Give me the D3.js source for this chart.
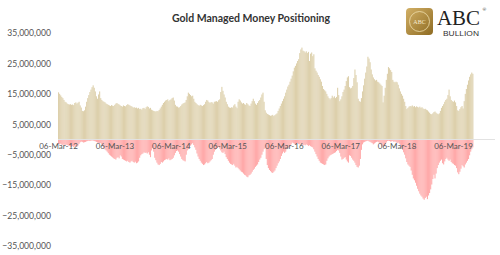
<!DOCTYPE html>
<html>
<head>
<meta charset="utf-8">
<script src="https://cdn.jsdelivr.net/npm/d3@7"></script>
<style>
  body { margin: 0; background: #fff; }
  svg { display: block; }
  text { font-family: Lato, "Noto Sans", sans-serif; }
</style>
</head>
<body>
<script>
// Weekly managed money positions (millions of oz), first week 06-Mar-12.
const firstWeek = new Date(2012, 2, 6)

const longMn = [
  15.5,15.0,14.5,14.0,13.6,13.0,12.4,12.2,11.8,11.6,11.5,11.6,11.4,11.5,11.3,12.0,12.2,11.8,12.1,12.4,11.2,10.5,9.4,9.3,9.6,10.8,12.4,13.6,14.6,15.6,16.4,17.2,17.8,17.0,15.8,14.2,13.4,14.8,15.8,13.6,13.0,12.6,12.4,12.2,11.8,11.6,11.4,11.2,11.0,11.3,11.1,11.0,
  11.4,11.8,12.0,11.7,11.5,11.2,11.0,10.8,11.2,11.0,10.9,11.3,11.6,11.4,11.2,11.0,10.8,10.5,10.6,10.4,10.5,10.2,10.4,10.0,10.1,9.8,10.3,10.4,10.0,10.6,10.9,10.7,10.2,10.4,9.8,9.6,9.4,9.3,9.2,9.4,9.3,9.7,10.2,10.8,11.4,12.0,12.4,12.8,13.0,13.2,12.6,13.0,
  13.2,13.6,13.8,12.8,11.4,10.9,10.8,10.5,10.6,11.0,11.5,11.8,12.0,12.2,13.0,14.2,15.4,15.0,14.6,14.2,14.4,13.4,12.4,12.0,11.6,11.3,11.1,11.4,11.2,11.0,11.3,11.6,12.4,13.0,12.8,12.3,12.0,12.3,12.2,11.8,12.4,12.5,12.6,12.4,12.9,13.2,15.6,17.3,16.0,14.8,13.8,12.4,
  11.6,10.8,10.5,10.4,10.6,10.5,11.2,11.6,10.8,10.3,12.4,13.2,12.8,12.2,11.8,12.0,11.6,11.4,12.0,11.6,11.2,11.0,11.8,12.6,13.4,12.6,11.8,11.4,12.0,12.6,13.0,13.8,14.8,15.4,12.4,9.6,8.8,8.4,8.2,8.0,7.8,7.9,8.1,7.7,8.0,8.3,8.6,9.4,10.2,11.0,11.8,12.6,13.4,
  14.2,15.4,16.4,17.4,18.0,19.0,20.0,21.0,22.4,23.6,24.2,25.0,25.8,26.4,28.4,29.6,30.2,29.2,29.0,28.6,29.0,28.4,28.8,25.8,28.2,28.6,27.4,28.0,23.4,22.6,22.0,21.2,20.6,19.8,19.0,17.6,16.6,16.2,15.8,15.0,14.2,13.6,13.2,13.6,14.4,13.8,14.2,13.6,14.0,17.0,14.6,12.6,
  13.2,14.2,15.6,16.4,17.6,19.2,20.4,20.8,17.2,16.8,17.0,17.6,20.2,23.0,21.2,18.8,13.4,12.6,12.4,13.6,15.8,17.8,20.0,22.0,24.0,27.2,26.6,25.4,23.0,21.4,20.4,19.8,19.4,19.6,19.0,18.8,18.4,18.0,17.6,12.2,14.4,17.0,19.6,21.6,23.8,23.4,22.8,22.2,19.6,19.0,18.8,19.0,
  18.8,18.0,16.8,15.8,15.0,14.4,13.4,12.4,11.0,10.0,10.4,10.8,11.0,10.9,11.2,10.8,11.0,10.6,10.9,10.7,10.5,10.8,10.4,10.6,10.2,10.0,10.1,9.8,9.6,9.2,8.8,8.4,8.3,8.6,9.0,9.2,8.8,8.5,8.3,8.6,9.4,10.4,11.0,11.6,12.4,13.0,13.4,14.6,16.4,14.2,13.0,12.6,
  12.4,12.8,12.2,11.0,9.6,9.4,10.0,10.6,11.0,10.2,12.6,15.0,16.6,18.0,19.4,20.6,21.4,22.0,21.6
]

const shortMn = [
  -1.5,-1.6,-1.4,-1.7,-1.8,-1.6,-1.9,-1.7,-1.8,-2.0,-2.1,-2.3,-2.4,-2.2,-2.5,-2.3,-2.2,-2.4,-2.0,-1.4,-0.9,-0.7,-0.8,-1.0,-0.9,-0.8,-0.6,-0.5,-0.4,-0.5,-0.4,-0.3,-0.4,-0.5,-0.6,-0.8,-1.0,-1.1,-1.3,-1.2,-1.6,-2.2,-2.8,-3.3,-3.6,-4.0,-4.5,-5.0,-5.3,-5.6,-5.9,-6.2,
  -6.4,-6.6,-6.0,-5.8,-6.2,-5.2,-5.6,-6.4,-6.6,-6.8,-7.0,-7.2,-7.0,-7.4,-7.6,-7.2,-7.0,-7.4,-7.6,-7.3,-7.8,-7.6,-7.2,-6.0,-5.2,-4.8,-4.6,-4.2,-4.4,-4.3,-4.6,-4.2,-5.0,-5.8,-3.6,-2.8,-4.0,-6.0,-6.8,-7.6,-8.2,-8.4,-8.0,-7.4,-7.6,-7.2,-6.8,-6.6,-6.4,-6.6,-6.2,-6.8,
  -6.6,-6.4,-6.0,-5.2,-4.4,-3.8,-3.6,-4.0,-4.8,-5.6,-6.4,-6.8,-7.0,-7.2,-5.0,-3.6,-3.2,-2.6,-2.0,-1.6,-1.2,-1.8,-2.6,-3.4,-4.6,-5.6,-6.4,-7.0,-7.6,-8.0,-8.4,-8.2,-7.8,-7.4,-7.8,-7.6,-7.2,-6.8,-6.4,-5.0,-4.0,-3.4,-3.0,-2.8,-2.4,-3.0,-3.6,-4.2,-4.4,-4.0,-4.8,-5.8,
  -6.4,-7.0,-7.6,-8.0,-8.2,-8.4,-8.0,-8.6,-9.2,-9.0,-9.4,-9.8,-10.2,-10.6,-10.8,-11.2,-11.6,-11.8,-12.2,-12.4,-11.8,-11.6,-11.2,-10.6,-10.0,-9.6,-9.0,-8.6,-8.2,-7.4,-6.6,-6.0,-5.0,-4.0,-3.2,-2.8,-6.4,-8.4,-9.4,-10.0,-10.4,-10.8,-11.0,-10.6,-10.2,-9.4,-8.6,-7.8,-7.2,-6.4,-5.4,-4.6,-4.0,
  -4.4,-4.0,-3.2,-2.8,-2.6,-2.2,-1.6,-1.0,-1.2,-1.4,-1.6,-1.4,-1.2,-1.5,-1.6,-1.3,-1.8,-2.0,-1.7,-1.9,-1.6,-1.8,-2.1,-1.9,-2.2,-2.4,-2.6,-3.2,-4.0,-4.8,-5.6,-6.4,-7.0,-7.6,-7.8,-8.0,-8.2,-8.4,-8.2,-7.0,-6.2,-5.6,-5.2,-5.0,-4.8,-4.6,-4.4,-4.2,-3.8,-3.4,-3.6,-4.4,
  -5.6,-6.6,-6.4,-6.0,-5.8,-6.6,-7.2,-7.6,-5.2,-5.4,-6.0,-6.6,-7.0,-7.6,-8.4,-9.0,-9.2,-8.6,-6.4,-3.4,-1.6,-1.0,-0.8,-0.6,-0.5,-0.4,-0.6,-0.8,-1.0,-1.2,-1.6,-1.3,-1.0,-0.8,-0.7,-0.9,-1.2,-1.6,-2.0,-2.6,-2.2,-1.6,-1.0,-0.5,-0.4,-0.5,-0.7,-0.6,-0.5,-0.8,-0.6,-0.9,
  -1.2,-1.0,-1.4,-1.8,-2.6,-3.4,-4.2,-5.0,-6.2,-7.4,-8.2,-8.6,-9.0,-10.2,-11.6,-12.8,-13.4,-14.2,-15.2,-16.2,-17.0,-17.8,-18.4,-18.8,-19.4,-19.8,-19.2,-18.8,-19.6,-18.4,-17.6,-16.4,-14.8,-13.0,-11.6,-12.8,-11.2,-9.4,-8.4,-7.6,-7.0,-6.6,-7.8,-8.2,-7.2,-6.4,-6.0,-6.6,-7.0,-6.6,-7.4,-7.8,
  -8.0,-8.4,-8.6,-9.4,-10.8,-11.4,-10.6,-9.6,-8.4,-8.8,-9.2,-8.2,-7.6,-7.0,-6.4,-5.2,-4.0,-3.2,-2.6
]

const yTicksMn = [35, 25, 15, 5, -5, -15, -25, -35]
const xTickDates = ['2012-03-06', '2013-03-06', '2014-03-06', '2015-03-06',
  '2016-03-06', '2017-03-06', '2018-03-06', '2019-03-06']

const title = 'Gold Managed Money Positioning'

// Size.
const width = 500
const height = 255

const svg = d3.select('body')
  .append('svg')
    .attr('width', width)
    .attr('height', height)

// Weekly dates for the bars.
const weeks = longMn.map((v, i) => d3.timeWeek.offset(firstWeek, i))
const parse = d3.timeParse('%Y-%m-%d')

// Scales.
const x = d3.scaleTime()
  .domain([firstWeek, parse('2019-03-06')])
  .range([58, 453])
const y = d3.scaleLinear().domain([-35, 35]).range([246, 33])
const barW = x(d3.timeWeek.offset(firstWeek, 1)) - x(firstWeek)

// Long bars.
svg.append('g')
  .selectAll('rect')
  .data(longMn)
  .enter().append('rect')
    .attr('x', (d, i) => x(weeks[i]))
    .attr('y', d => y(d))
    .attr('width', barW)
    .attr('height', d => y(0) - y(d))
    .attr('fill', '#ddd0ac')

// Short bars.
svg.append('g')
  .selectAll('rect')
  .data(shortMn)
  .enter().append('rect')
    .attr('x', (d, i) => x(weeks[i]))
    .attr('y', y(0))
    .attr('width', barW)
    .attr('height', d => y(d) - y(0))
    .attr('fill', '#ffaaaa')

// Zero line.
svg.append('line')
  .attr('x1', 58).attr('x2', 495)
  .attr('y1', y(0)).attr('y2', y(0))
  .attr('stroke', '#e2e2e2')
  .attr('stroke-width', 1)

// Y axis labels.
const fmt = d3.format(',')
const yAxis = svg.append('g')
  .attr('transform', 'translate(51, 0)')
  .call(d3.axisLeft(y).tickValues(yTicksMn).tickSize(0).tickPadding(0)
    .tickFormat(d => fmt(d * 1e6)))
yAxis.select('.domain').remove()
yAxis.selectAll('text')
  .attr('fill', '#555')
  .style('font-size', '8.6px')

// X axis labels.
const xAxis = svg.append('g')
  .attr('transform', `translate(0, ${y(0)})`)
  .call(d3.axisBottom(x).tickValues(xTickDates.map(parse)).tickSize(0).tickPadding(4)
    .tickFormat(d3.timeFormat('%d-%b-%y')))
xAxis.select('.domain').remove()
xAxis.selectAll('text')
  .attr('fill', '#555')
  .style('font-size', '8px')

// Title.
svg.append('text')
  .attr('x', 251)
  .attr('y', 21.5)
  .attr('text-anchor', 'middle')
  .attr('fill', '#333')
  .style('font-size', '10.5px')
  .style('font-weight', 'bold')
  .text(title)

// Logo.
const grad = svg.append('defs').append('linearGradient')
  .attr('id', 'gold').attr('x1', 0).attr('y1', 0).attr('x2', 1).attr('y2', 1)
grad.append('stop').attr('offset', 0).attr('stop-color', '#d2b066')
grad.append('stop').attr('offset', 1).attr('stop-color', '#8e6b22')

const logo = svg.append('g')
logo.append('rect')
  .attr('x', 406).attr('y', 8).attr('width', 27).attr('height', 27).attr('rx', 4)
  .attr('fill', 'url(#gold)')
logo.append('circle')
  .attr('cx', 419.5).attr('cy', 21.5).attr('r', 10)
  .attr('fill', 'none').attr('stroke', '#f0dfae').attr('stroke-width', 0.8)
logo.append('text')
  .attr('x', 419.5).attr('y', 23.5).attr('text-anchor', 'middle')
  .attr('fill', '#f6ead0')
  .style('font-family', '"Liberation Serif", serif').style('font-size', '6px')
  .text('ABC')
logo.append('text')
  .attr('x', 437).attr('y', 25)
  .attr('textLength', 43).attr('lengthAdjust', 'spacingAndGlyphs')
  .attr('fill', '#222')
  .style('font-family', '"Liberation Serif", serif').style('font-size', '20px')
  .text('ABC')
logo.append('text')
  .attr('x', 482.5).attr('y', 11)
  .attr('fill', '#222')
  .style('font-size', '4.5px')
  .text('®')
logo.append('text')
  .attr('x', 443).attr('y', 36)
  .attr('textLength', 36).attr('lengthAdjust', 'spacingAndGlyphs')
  .attr('fill', '#333')
  .style('font-family', '"Liberation Sans", sans-serif').style('font-size', '7px')
  .text('BULLION')
</script>
</body>
</html>
